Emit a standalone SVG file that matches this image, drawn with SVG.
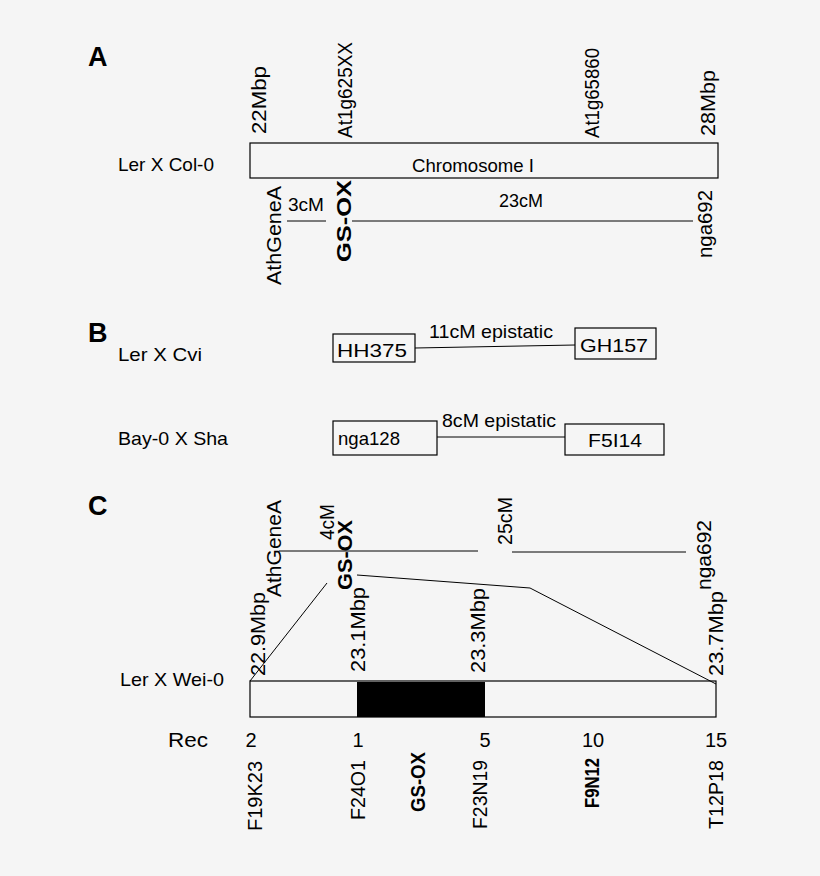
<svg xmlns="http://www.w3.org/2000/svg" width="820" height="876" viewBox="0 0 820 876">
<style>
text{font-family:"Liberation Sans",Arial,sans-serif;font-size:19px;fill:#000}
.h{font-size:27px;font-weight:bold}
.b{font-weight:bold}
.r{font-size:20px}
.v{font-size:21px}
.bx{fill:none;stroke:#000;stroke-width:1.2}
.ln{fill:none;stroke:#000;stroke-width:1}
</style>
<rect width="820" height="876" fill="#f5f5f5"/>
<text class="h" x="88" y="66">A</text>
<text class="h" x="88" y="342">B</text>
<text class="h" x="88" y="515">C</text>
<g id="A">
<text x="118" y="171" textLength="96" lengthAdjust="spacingAndGlyphs">Ler X Col-0</text>
<rect class="bx" x="250" y="143" width="468" height="35" fill="#fff"/>
<text x="473" y="172" text-anchor="middle" textLength="122" lengthAdjust="spacingAndGlyphs">Chromosome I</text>
<text class="v" transform="translate(266,134) rotate(-90)" textLength="68" lengthAdjust="spacingAndGlyphs">22Mbp</text>
<text class="v" transform="translate(352,138) rotate(-90)" textLength="96" lengthAdjust="spacingAndGlyphs">At1g625XX</text>
<text class="v" transform="translate(599,138) rotate(-90)" textLength="90" lengthAdjust="spacingAndGlyphs">At1g65860</text>
<text class="v" transform="translate(715,136) rotate(-90)" textLength="66" lengthAdjust="spacingAndGlyphs">28Mbp</text>
<text class="v" transform="translate(281,285) rotate(-90)" textLength="99" lengthAdjust="spacingAndGlyphs">AthGeneA</text>
<text class="v b" transform="translate(351,262) rotate(-90)" textLength="82" lengthAdjust="spacingAndGlyphs">GS-OX</text>
<text class="v" transform="translate(712,258) rotate(-90)" textLength="68" lengthAdjust="spacingAndGlyphs">nga692</text>
<text x="288" y="211" textLength="36" lengthAdjust="spacingAndGlyphs">3cM</text>
<text x="521" y="207" text-anchor="middle" textLength="44" lengthAdjust="spacingAndGlyphs">23cM</text>
</g>
<g id="B">
<text x="118" y="361" textLength="84" lengthAdjust="spacingAndGlyphs">Ler X Cvi</text>
<rect class="bx" x="333" y="334" width="82" height="28" fill="#fff"/>
<text x="337" y="357" textLength="70" lengthAdjust="spacingAndGlyphs">HH375</text>
<rect class="bx" x="575" y="328" width="81" height="31" fill="#fff"/>
<text x="580" y="352" textLength="68" lengthAdjust="spacingAndGlyphs">GH157</text>
<text x="491" y="338" text-anchor="middle" textLength="124" lengthAdjust="spacingAndGlyphs">11cM epistatic</text>
<text x="118" y="445" textLength="110" lengthAdjust="spacingAndGlyphs">Bay-0 X Sha</text>
<rect class="bx" x="333" y="421" width="104" height="34" fill="#fff"/>
<text x="338" y="445" textLength="62" lengthAdjust="spacingAndGlyphs">nga128</text>
<rect class="bx" x="565" y="424" width="99" height="31" fill="#fff"/>
<text x="588" y="447" textLength="54" lengthAdjust="spacingAndGlyphs">F5I14</text>
<text x="499" y="427" text-anchor="middle" textLength="114" lengthAdjust="spacingAndGlyphs">8cM epistatic</text>
</g>
<g id="C">
<text x="120" y="686" textLength="104" lengthAdjust="spacingAndGlyphs">Ler X Wei-0</text>
<rect class="bx" x="250" y="681" width="466" height="36" fill="#fff"/>
<rect x="357" y="682" width="128" height="35" fill="#000"/>
<text class="v" transform="translate(281,597) rotate(-90)" textLength="97" lengthAdjust="spacingAndGlyphs">AthGeneA</text>
<text class="v" transform="translate(334,540) rotate(-90)" textLength="36" lengthAdjust="spacingAndGlyphs">4cM</text>
<text class="v b" transform="translate(352,590) rotate(-90)" textLength="70" lengthAdjust="spacingAndGlyphs">GS-OX</text>
<text class="v" transform="translate(512,545) rotate(-90)" textLength="48" lengthAdjust="spacingAndGlyphs">25cM</text>
<text class="v" transform="translate(711,590) rotate(-90)" textLength="70" lengthAdjust="spacingAndGlyphs">nga692</text>
<text class="v" transform="translate(265,676) rotate(-90)" textLength="84" lengthAdjust="spacingAndGlyphs">22.9Mbp</text>
<text class="v" transform="translate(365,672) rotate(-90)" textLength="85" lengthAdjust="spacingAndGlyphs">23.1Mbp</text>
<text class="v" transform="translate(485,673) rotate(-90)" textLength="85" lengthAdjust="spacingAndGlyphs">23.3Mbp</text>
<text class="v" transform="translate(723,676) rotate(-90)" textLength="85" lengthAdjust="spacingAndGlyphs">23.7Mbp</text>
<text x="168" y="747" class="r" textLength="40" lengthAdjust="spacingAndGlyphs">Rec</text>
<text x="251" y="747" class="r" text-anchor="middle">2</text>
<text x="358" y="747" class="r" text-anchor="middle">1</text>
<text x="485" y="747" class="r" text-anchor="middle">5</text>
<text x="593" y="747" class="r" text-anchor="middle">10</text>
<text x="716" y="747" class="r" text-anchor="middle">15</text>
<text class="v" transform="translate(262,831) rotate(-90)" textLength="70" lengthAdjust="spacingAndGlyphs">F19K23</text>
<text class="v" transform="translate(365,820) rotate(-90)" textLength="60" lengthAdjust="spacingAndGlyphs">F24O1</text>
<text class="v b" transform="translate(425,812) rotate(-90)" textLength="60" lengthAdjust="spacingAndGlyphs">GS-OX</text>
<text class="v" transform="translate(487,829) rotate(-90)" textLength="69" lengthAdjust="spacingAndGlyphs">F23N19</text>
<text class="v b" transform="translate(599,808) rotate(-90)" textLength="50" lengthAdjust="spacingAndGlyphs">F9N12</text>
<text class="v" transform="translate(723,829) rotate(-90)" textLength="69" lengthAdjust="spacingAndGlyphs">T12P18</text>
</g>
<g id="connectors">
<path class="ln" d="M287 221H326M352 221H693"/>
<path class="ln" d="M415 348L575 345M437 437H565"/>
<path class="ln" d="M279 551H478M512 552H686"/>
<path class="ln" d="M250 681L327 583M357 575L530 588L716 684"/>
</g>
</svg>
